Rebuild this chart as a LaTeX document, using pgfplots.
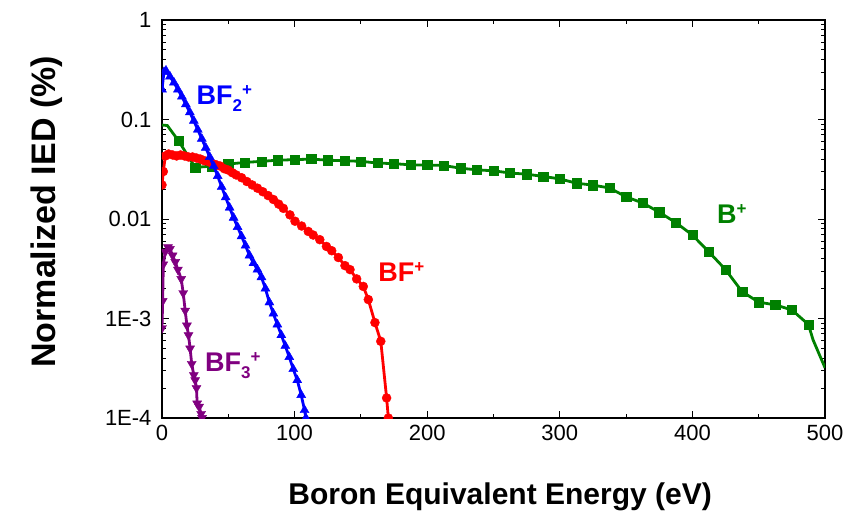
\documentclass[border=0pt]{standalone}
\usepackage{fontspec}
\setmainfont{Liberation Sans}
\usepackage{pgfplots}
\pgfplotsset{compat=1.18}
\definecolor{cgreen}{RGB}{0,128,0}
\definecolor{cpurple}{RGB}{128,0,128}
\newcommand\sub[1]{\raisebox{-7bp}{\fontsize{17bp}{17bp}\selectfont #1}}
\newcommand\sups[1]{\raisebox{9bp}{\fontsize{17bp}{17bp}\selectfont #1}}
\begin{document}
\begin{tikzpicture}
\begin{axis}[
 scale only axis, width=663bp, height=398bp,
 xmin=0, xmax=500, ymin=1e-4, ymax=1, ymode=log,
 axis line style={line width=1.3bp},
 every tick/.style={line width=1bp, black},
 major tick length=7bp, minor tick length=4bp,
 tick align=inside,
 xtick={0,100,200,300,400,500}, minor xtick={50,150,250,350,450},
 xticklabels={0,100,200,300,400,500},
 ytick={1e-4,1e-3,1e-2,1e-1,1},
 yticklabels={1E-4,1E-3,0.01,0.1,1},
 minor ytick={2e-4,3e-4,4e-4,5e-4,6e-4,7e-4,8e-4,9e-4,2e-3,3e-3,4e-3,5e-3,6e-3,7e-3,8e-3,9e-3,2e-2,3e-2,4e-2,5e-2,6e-2,7e-2,8e-2,9e-2,0.2,0.3,0.4,0.5,0.6,0.7,0.8,0.9},
 xticklabel style={font=\fontsize{22bp}{24bp}\selectfont, yshift=-4bp},
 yticklabel style={font=\fontsize{22bp}{24bp}\selectfont, xshift=-7bp},
 xlabel={Boron Equivalent Energy (eV)},
 ylabel={Normalized IED (\%)},
 xlabel style={font=\bfseries\fontsize{30bp}{34bp}\selectfont, at={(axis description cs:0.51,-0.198)}, anchor=center},
 ylabel style={font=\bfseries\fontsize{34bp}{36bp}\selectfont, at={(axis description cs:-0.1735,0.518)}, anchor=center, rotate=0},
 clip marker paths=true,
]
% B+
\addplot[cgreen, line width=2.8bp, mark=square*, mark size=4.6bp, mark options={line width=0.4bp, solid}, mark indices={3,...,41}] coordinates {
(0,0.088) (4,0.087) (12.5,0.061) (25,0.033) (37.5,0.034) (50,0.0357) (62.5,0.037) (75,0.038) (87.5,0.039) (100,0.0395)
(112.5,0.040) (125,0.039) (137.5,0.0385) (150,0.038) (162.5,0.0365) (175,0.036) (187.5,0.035) (200,0.0349) (212.5,0.0345)
(225,0.0324) (237.5,0.0312) (250,0.0305) (262.5,0.029) (275,0.0282) (287.5,0.0268) (300,0.0253) (312.5,0.0229) (325,0.0219)
(337.5,0.0205) (350,0.0167) (362.5,0.0145) (375,0.0117) (387.5,0.0092) (400,0.0069) (412.5,0.00466) (425,0.0031)
(437.5,0.00186) (450,0.00146) (462.5,0.00137) (475,0.00122) (487.5,0.00087) (491,0.00061) (500,0.00032)
};
% BF+
\addplot[red, line width=2.8bp, mark=*, mark size=4.5bp, mark options={line width=0.4bp, solid}] coordinates {
(0,0.022) (1,0.030) (2.5,0.043) (5,0.045) (8,0.044) (11,0.043) (14,0.044) (17,0.043) (20,0.042) (23,0.042) (26,0.041)
(29,0.040) (32,0.0385) (35,0.0378) (38,0.036) (41,0.035) (44,0.0340) (47,0.032) (50,0.031) (53,0.0292) (56,0.0277)
(60,0.026) (64,0.0238) (68,0.0220) (72,0.0204) (76,0.0188) (80,0.0172) (84,0.0157) (88,0.0141) (91.5,0.0128)
(96.5,0.0110) (100.3,0.0095) (105.3,0.0085) (110.3,0.0075) (114,0.0069) (119,0.0062) (124,0.0053) (128,0.0048)
(133,0.0041) (138,0.0034) (141.8,0.0031) (146.8,0.0025) (151.8,0.0021) (155.6,0.00155) (160.6,0.00091) (165,0.00059)
(169.4,0.000159) (170.7,0.0001)
};
% BF2+
\addplot[blue, line width=2.8bp, mark=triangle*, mark size=5.2bp, mark options={line width=0.4bp, solid}] coordinates {
(0,0.20) (1.5,0.30) (3,0.31) (6,0.27) (9,0.235) (12,0.20) (15,0.17) (18,0.142) (21,0.118) (24,0.097) (27,0.079)
(30,0.064) (33,0.052) (36,0.042) (39,0.034) (42,0.027) (45,0.021) (48,0.0165) (51,0.013) (54,0.0103) (57,0.0083)
(60,0.0067) (63,0.0054) (66,0.0043) (69,0.0036) (72,0.0031) (75,0.0026) (78,0.0020) (81,0.00145) (84,0.00112)
(87,0.00087) (90,0.00068) (93,0.00053) (96,0.00041) (99,0.00031) (102,0.00024) (105,0.00017) (107.5,0.00012) (108.5,0.0001)
};
% BF3+
\addplot[cpurple, line width=2.8bp, mark=triangle*, mark size=5.2bp, mark options={line width=0.4bp, solid, rotate=180}] coordinates {
(0,0.0008) (0.5,0.0015) (1,0.0035) (2.5,0.0047) (4.5,0.0052) (6,0.0050) (8,0.0043) (10,0.0037) (12,0.0031)
(14.5,0.0025) (16,0.0018) (17.5,0.0012) (18.8,0.00085) (20,0.00068) (21.2,0.0005) (22.4,0.00035) (24,0.00027)
(25,0.00024) (26,0.00020) (26.5,0.00014) (28,0.00013) (29.5,0.00011) (30.2,0.0001)
};
\node[anchor=base west, text=blue, font=\bfseries\fontsize{27bp}{27bp}\selectfont, inner sep=0pt] at (axis cs:26,0.14) {BF\sub{2}\sups{+}};
\node[anchor=base west, text=red, font=\bfseries\fontsize{27bp}{27bp}\selectfont, inner sep=0pt] at (axis cs:163,0.00234) {BF\sups{+}};
\node[anchor=base west, text=cgreen, font=\bfseries\fontsize{27bp}{27bp}\selectfont, inner sep=0pt] at (axis cs:418.5,0.0091) {B\sups{+}};
\node[anchor=base west, text=cpurple, font=\bfseries\fontsize{27bp}{27bp}\selectfont, inner sep=0pt] at (axis cs:32.4,0.00029) {BF\sub{3}\sups{+}};
\end{axis}
\pgfresetboundingbox
\path (-162bp,-101bp) rectangle (689bp,418bp);
\end{tikzpicture}
\end{document}
